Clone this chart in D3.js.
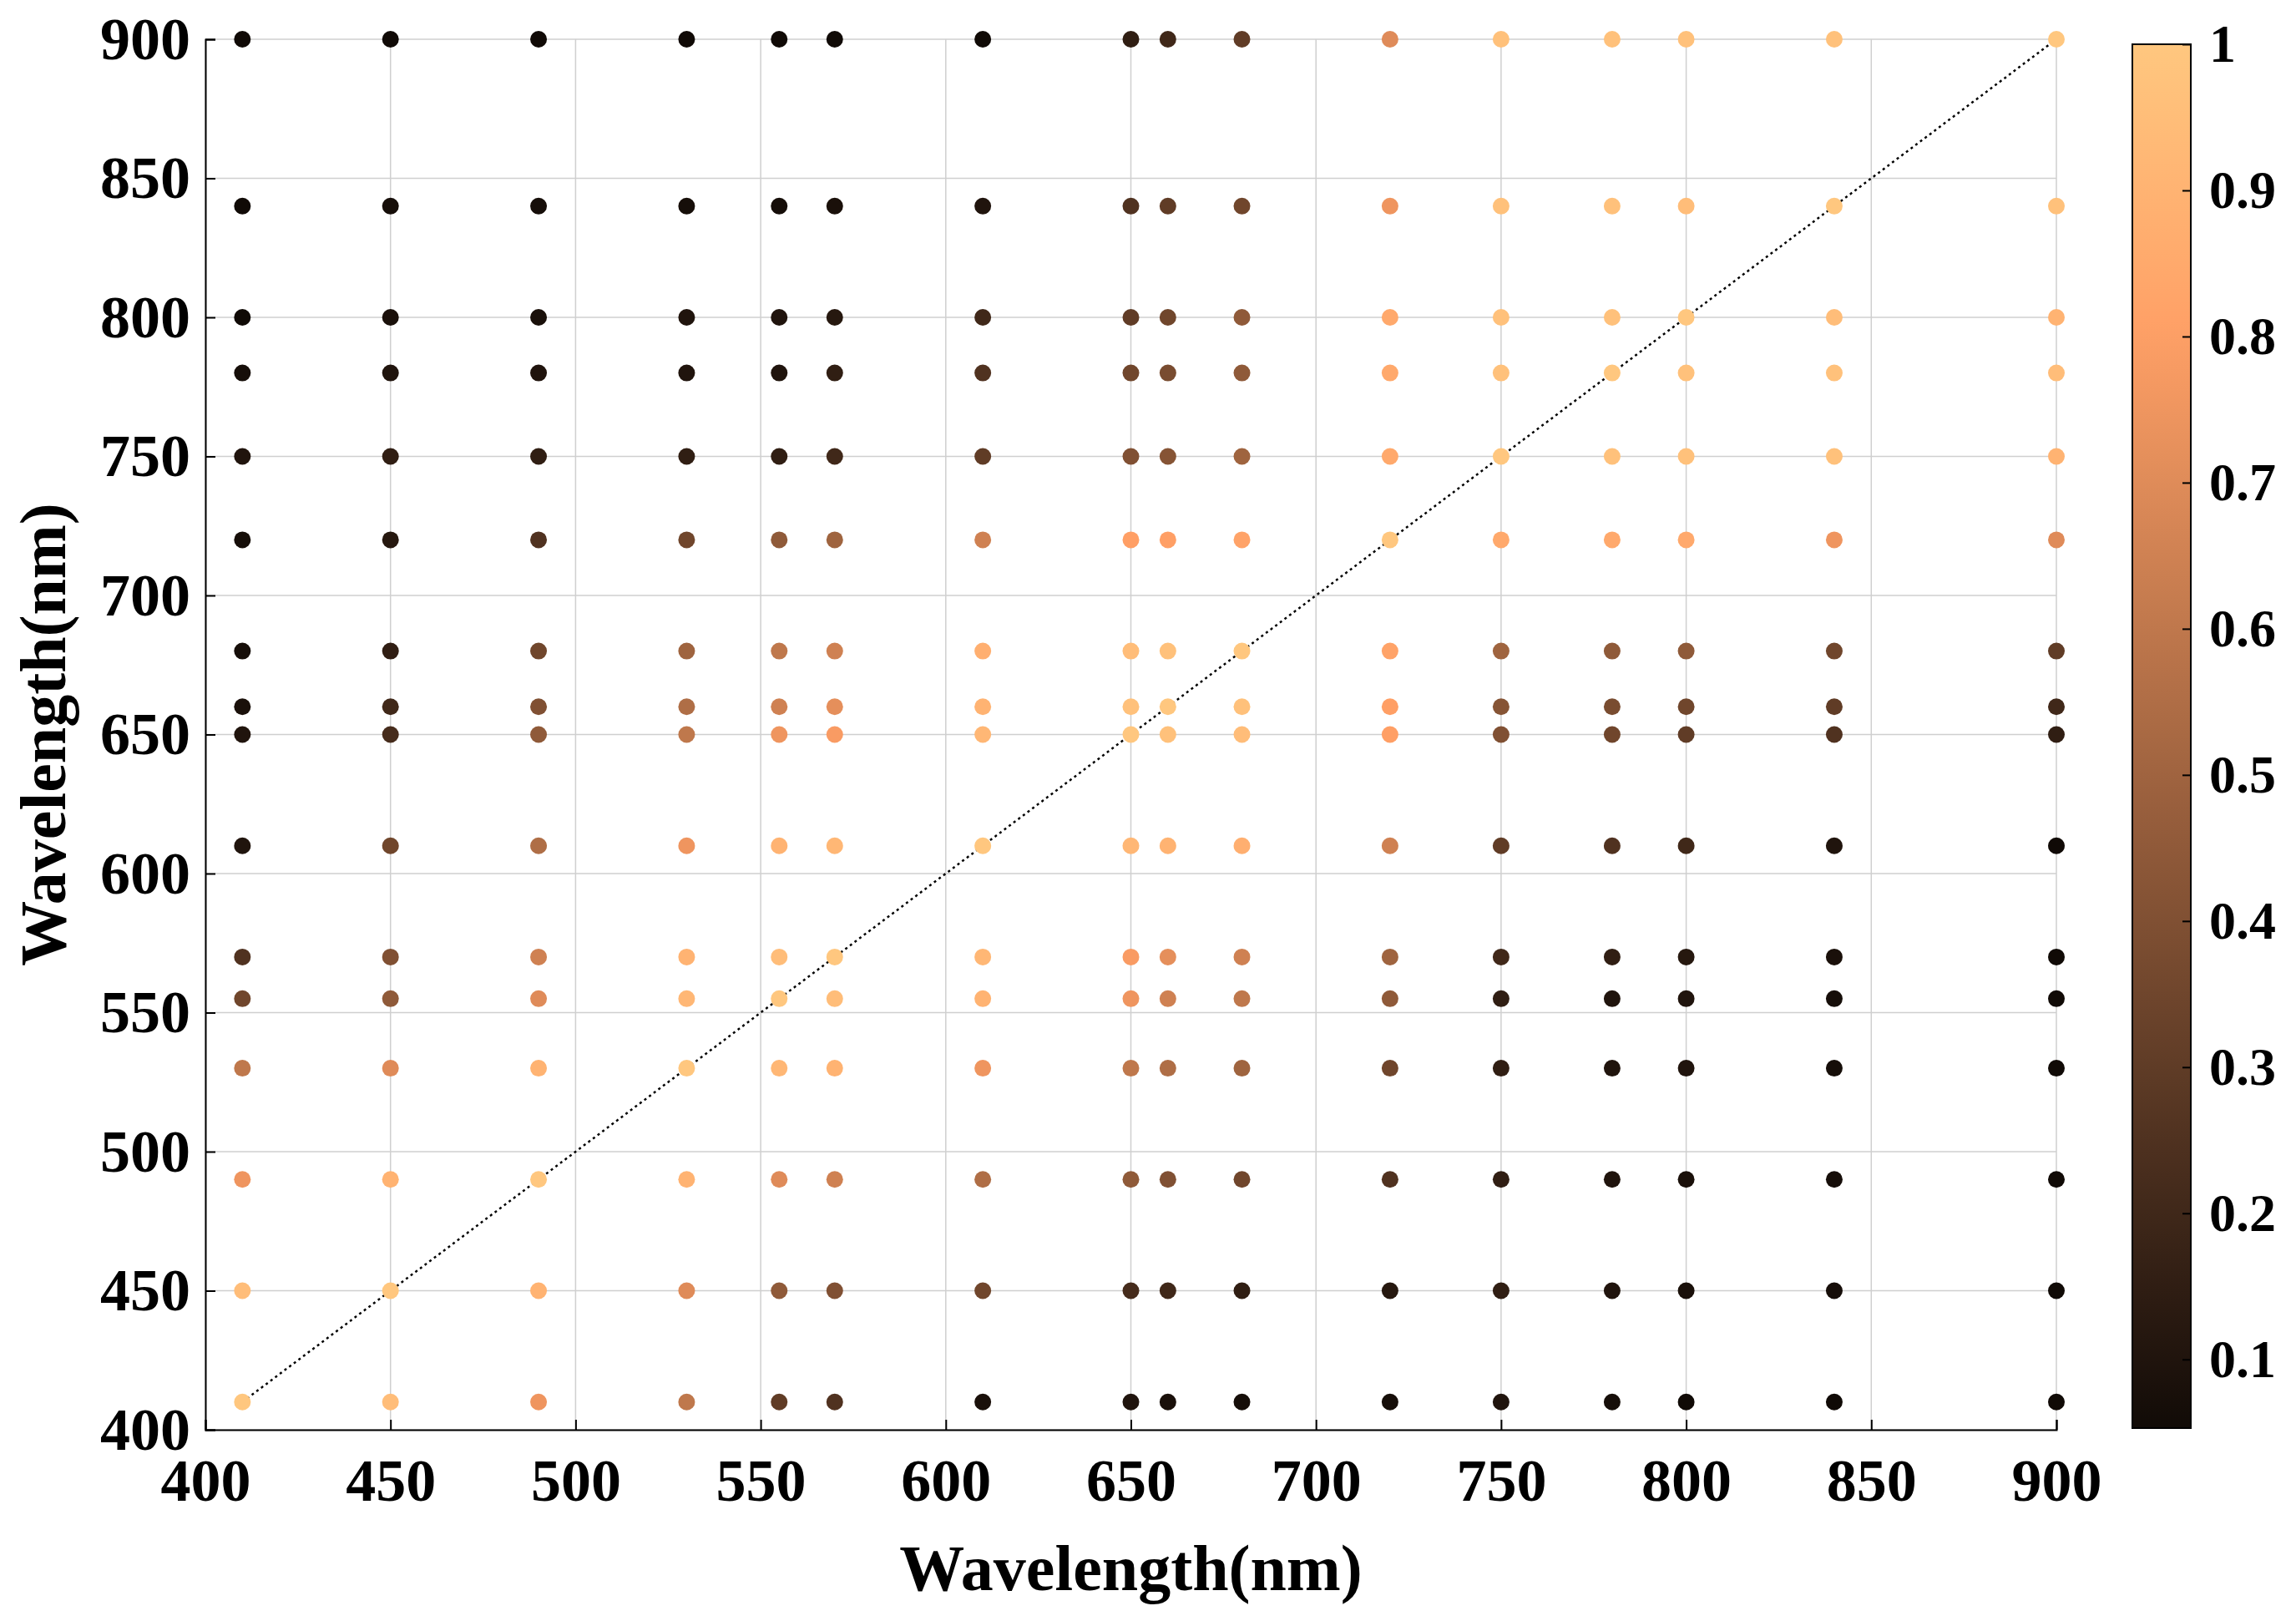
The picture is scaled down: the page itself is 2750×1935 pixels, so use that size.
<!DOCTYPE html>
<html><head><meta charset="utf-8">
<script src="https://cdn.jsdelivr.net/npm/d3@7"></script>
<style>body{margin:0;background:#fff}text{font-family:"Liberation Serif","Times New Roman",serif;font-weight:bold}</style>
</head><body><svg id="c" width="2750" height="1935"></svg>
<script>
const wavelengths=[410,450,490,530,555,570,610,650,660,680,720,750,780,800,840,900];
const yOrder=[900,840,800,780,750,720,680,660,650,610,570,555,530,490,450,410];
// values per x column, listed in yOrder
const columns={
410:[.05,.05,.05,.07,.1,.07,.07,.08,.1,.1,.25,.35,.6,.75,.95,1],
450:[.05,.07,.08,.1,.15,.12,.15,.2,.22,.35,.4,.45,.7,.9,1,.95],
490:[.05,.07,.08,.1,.15,.25,.35,.4,.45,.55,.65,.7,.9,1,.9,.75],
530:[.05,.07,.1,.1,.15,.35,.5,.55,.6,.75,.9,.92,1,.9,.7,.6],
555:[.05,.07,.1,.1,.15,.45,.6,.65,.75,.9,.95,1,.92,.7,.45,.3],
570:[.05,.08,.12,.15,.2,.5,.65,.72,.78,.92,1,.95,.9,.65,.4,.25],
610:[.05,.1,.2,.25,.3,.65,.88,.9,.92,1,.92,.9,.75,.55,.35,.08],
650:[.15,.25,.3,.35,.4,.8,.95,.97,1,.92,.78,.75,.6,.45,.22,.1],
660:[.2,.3,.35,.38,.42,.8,.97,1,.97,.9,.72,.65,.55,.4,.2,.08],
680:[.3,.35,.45,.45,.5,.82,1,.97,.95,.88,.65,.6,.5,.35,.15,.07],
720:[.7,.75,.85,.85,.85,1,.82,.8,.8,.65,.5,.45,.35,.25,.12,.07],
750:[.97,.97,.97,.97,1,.85,.5,.42,.4,.3,.2,.15,.15,.15,.15,.1],
780:[.97,.97,.97,1,.97,.85,.45,.38,.35,.25,.15,.1,.1,.1,.1,.07],
800:[.97,.95,1,.97,.97,.85,.45,.35,.3,.2,.12,.1,.1,.08,.08,.05],
840:[.97,1,.95,.97,.97,.75,.35,.3,.25,.1,.08,.07,.07,.07,.07,.05],
900:[1,.97,.9,.95,.9,.7,.3,.2,.15,.05,.05,.05,.05,.05,.05,.05]};
const ticks=[400,450,500,550,600,650,700,750,800,850,900];
const cbTicks=[0.1,0.2,0.3,0.4,0.5,0.6,0.7,0.8,0.9,1];
const cbDomain=[0.053,1];

const copper=t=>`rgb(${Math.round(255*Math.min(1,1.25*t))},${Math.round(255*0.7812*t)},${Math.round(255*0.4975*t)})`;
const svg=d3.select("#c");
const L=246,R=2463,T=47,B=1712;
const x=d3.scaleLinear().domain([400,900]).range([L,R]);
const y=d3.scaleLinear().domain([400,900]).range([B,T]);
const g=svg.append("g");
ticks.forEach(v=>{
 g.append("line").attr("x1",x(v)).attr("x2",x(v)).attr("y1",T).attr("y2",B).attr("stroke","#cfcfcf").attr("stroke-width",1.5);
 g.append("line").attr("y1",y(v)).attr("y2",y(v)).attr("x1",L).attr("x2",R).attr("stroke","#cfcfcf").attr("stroke-width",1.5);
});
g.append("line").attr("x1",x(410)).attr("y1",y(410)).attr("x2",x(900)).attr("y2",y(900)).attr("stroke","#000").attr("stroke-width",2.5).attr("stroke-dasharray","3,4");
const cs=d3.scaleSequential(copper).domain([0,1]);
wavelengths.forEach(wx=>columns[wx].forEach((v,i)=>{
 svg.append("circle").attr("cx",x(wx)).attr("cy",y(yOrder[i])).attr("r",10).attr("fill",cs(v));
}));
const xa=svg.append("g").attr("transform",`translate(0,${B})`).call(d3.axisBottom(x).tickValues(ticks).tickSize(-12).tickPadding(34));
const ya=svg.append("g").attr("transform",`translate(${L},0)`).call(d3.axisLeft(y).tickValues(ticks).tickSize(-12).tickPadding(18));
[xa,ya].forEach(a=>{a.selectAll("text").attr("font-size",72).attr("fill","#000");a.selectAll("line,path").attr("stroke","#000").attr("stroke-width",2);});
svg.append("text").attr("x",(L+R)/2).attr("y",1904).attr("text-anchor","middle").attr("font-size",78).text("Wavelength(nm)");
svg.append("text").attr("transform",`translate(78,${(T+B)/2}) rotate(-90)`).attr("text-anchor","middle").attr("font-size",78).text("Wavelength(nm)");
// colorbar
const cx0=2554,cw=70,cT=53,cB=1710;
const cy=d3.scaleLinear().domain(cbDomain).range([cB,cT]);
const defs=svg.append("defs");const gr=defs.append("linearGradient").attr("id","gr").attr("x1",0).attr("x2",0).attr("y1",1).attr("y2",0);
d3.range(0,1.0001,0.05).forEach(f=>{const v=cbDomain[0]+f*(cbDomain[1]-cbDomain[0]);gr.append("stop").attr("offset",f).attr("stop-color",copper(v));});
svg.append("rect").attr("x",cx0).attr("y",cT).attr("width",cw).attr("height",cB-cT).attr("fill","url(#gr)").attr("stroke","#000").attr("stroke-width",2);
const ca=svg.append("g").attr("transform",`translate(${cx0+cw},0)`).call(d3.axisRight(cy).tickValues(cbTicks).tickFormat(d3.format("")).tickSize(-10).tickPadding(22));
ca.select("path").remove();ca.selectAll("line").attr("stroke","#000").attr("stroke-width",2);ca.selectAll("text").attr("font-size",64).attr("fill","#000");
</script></body></html>
